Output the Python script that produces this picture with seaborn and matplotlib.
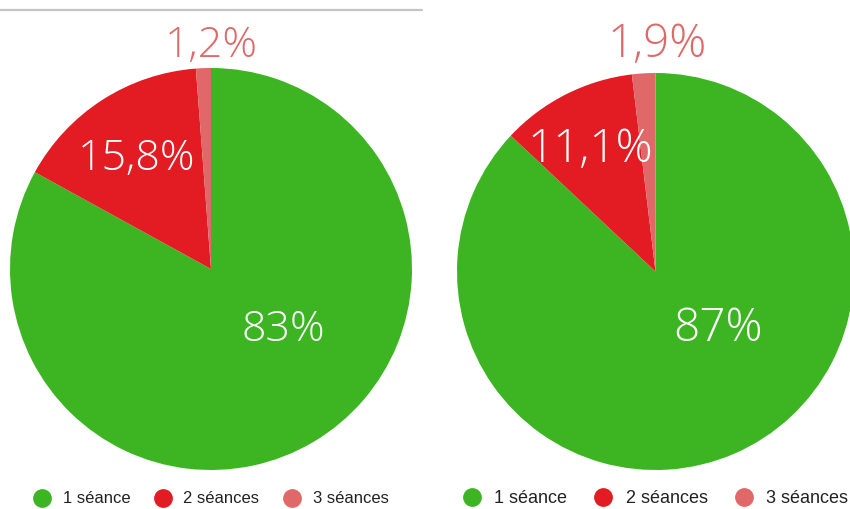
import matplotlib
matplotlib.use("Agg")
import matplotlib.pyplot as plt
from matplotlib.lines import Line2D
import seaborn as sns

# Share of patients by number of sessions, for two groups
categories = ["1 séance", "2 séances", "3 séances"]
group_a = [83.0, 15.8, 1.2]
group_b = [87.0, 11.1, 1.9]
label_a = ["83%", "15,8%", "1,2%"]
label_b = ["87%", "11,1%", "1,9%"]

sns.set_theme(style="white")
palette = sns.color_palette(["#3db523", "#e31b23", "#e06868"])
plt.rcParams["font.family"] = ["Liberation Sans", "DejaVu Sans"]

fig = plt.figure(figsize=(8.5, 5.09), dpi=100)

# thin separator rule above the left chart
fig.add_artist(Line2D([0, 0.497], [0.98, 0.98], color="#c4c4c4", lw=1.6,
                      transform=fig.transFigure))

ax_a = fig.add_axes([10 / 850, 39 / 509, 402 / 850, 402 / 509])
ax_b = fig.add_axes([457 / 850, 39 / 509, 397 / 850, 397 / 509])

# label placements (pie units) and text colours per wedge
layout_a = [(0.36, -0.30), (-0.37, 0.55), (0.0, 1.11)]
layout_b = [(0.315, -0.29), (-0.33, 0.61), (0.01, 1.14)]
text_colors = ["white", "white", palette[2]]

panels = [
    (ax_a, group_a, label_a, layout_a, 31.0, 12.0, 1.45, 0.5),
    (ax_b, group_b, label_b, layout_b, 33.0, 13.0, 1.5, 0.5),
]

for ax, vals, labels, spots, tsize, lsize, colsp, lx in panels:
    wedges, _ = ax.pie(vals, colors=palette, startangle=90, counterclock=False,
                       radius=1.0, wedgeprops=dict(linewidth=0))
    for w in wedges:
        w.set_clip_on(False)
    ax.set_xlim(-1, 1)
    ax.set_ylim(-1, 1)
    ax.set_aspect("equal")
    ax.axis("off")
    for lab, (x, y), c in zip(labels, spots, text_colors):
        ax.text(x, y, lab, ha="center", va="center", color=c, fontsize=tsize,
                family=["Open Sans", "DejaVu Sans"], fontweight=300,
                clip_on=False)
    handles = [Line2D([], [], marker="o", linestyle="", markersize=12.5,
                      markerfacecolor=col, markeredgecolor=col)
               for col in palette]
    ax.legend(handles, categories, loc="center", ncol=3, frameon=False,
              bbox_to_anchor=(lx, -0.072), fontsize=lsize, handlelength=1.0,
              handletextpad=0.75, columnspacing=colsp, labelcolor="#222222")

fig.savefig("out.png", dpi=100)
